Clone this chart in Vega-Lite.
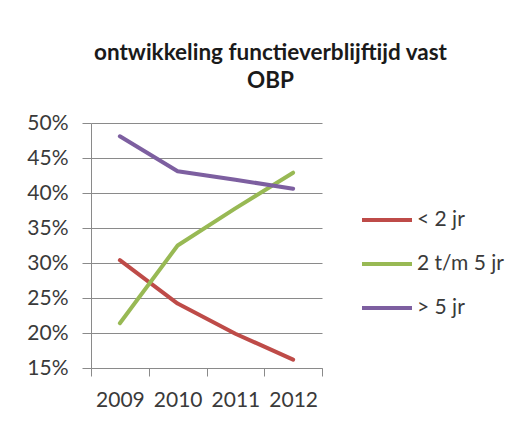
{
  "$schema": "https://vega.github.io/schema/vega-lite/v6.json",
  "width": 231,
  "height": 245,
  "autosize": {"type": "none"},
  "padding": {"left": 91, "top": 123, "right": 197, "bottom": 53},
  "background": "white",
  "title": {
    "text": ["ontwikkeling functieverblijftijd vast", "OBP"],
    "font": "Lato",
    "fontSize": 22.5,
    "fontWeight": "bold",
    "color": "#1a1a1a",
    "anchor": "middle",
    "frame": "group",
    "dx": 64,
    "lineHeight": 28,
    "offset": 20
  },
  "data": {
    "values": [
      {"year": "2009", "series": "< 2 jr", "value": 0.304},
      {"year": "2010", "series": "< 2 jr", "value": 0.242},
      {"year": "2011", "series": "< 2 jr", "value": 0.199},
      {"year": "2012", "series": "< 2 jr", "value": 0.162},
      {"year": "2009", "series": "2 t/m 5 jr", "value": 0.214},
      {"year": "2010", "series": "2 t/m 5 jr", "value": 0.325},
      {"year": "2011", "series": "2 t/m 5 jr", "value": 0.378},
      {"year": "2012", "series": "2 t/m 5 jr", "value": 0.429},
      {"year": "2009", "series": "> 5 jr", "value": 0.481},
      {"year": "2010", "series": "> 5 jr", "value": 0.431},
      {"year": "2011", "series": "> 5 jr", "value": 0.419},
      {"year": "2012", "series": "> 5 jr", "value": 0.406}
    ]
  },
  "mark": {"type": "line", "strokeWidth": 4, "strokeCap": "round", "strokeJoin": "round"},
  "encoding": {
    "x": {
      "field": "year",
      "type": "ordinal",
      "bandPosition": 0.5,
      "scale": {"type": "band", "paddingInner": 0, "paddingOuter": 0},
      "axis": {
        "title": null,
        "labelAngle": 0,
        "tickBand": "extent",
        "grid": false,
        "domainColor": "#8a8a8a",
        "tickColor": "#8a8a8a",
        "tickSize": 8,
        "labelFont": "Lato",
        "labelFontSize": 21,
        "labelColor": "#3a3a3a",
        "labelPadding": 13
      }
    },
    "y": {
      "field": "value",
      "type": "quantitative",
      "scale": {"domain": [0.15, 0.5], "nice": false, "zero": false},
      "axis": {
        "title": null,
        "format": ".0%",
        "values": [0.15, 0.2, 0.25, 0.3, 0.35, 0.4, 0.45, 0.5],
        "grid": true,
        "gridColor": "#8a8a8a",
        "domainColor": "#8a8a8a",
        "tickColor": "#8a8a8a",
        "tickSize": 9,
        "labelFont": "Lato",
        "labelFontSize": 21,
        "labelColor": "#3a3a3a",
        "labelPadding": 14
      }
    },
    "color": {
      "field": "series",
      "type": "nominal",
      "sort": ["< 2 jr", "2 t/m 5 jr", "> 5 jr"],
      "scale": {"domain": ["< 2 jr", "2 t/m 5 jr", "> 5 jr"], "range": ["#BE4B48", "#98B954", "#7D5FA0"]},
      "legend": {
        "title": null,
        "orient": "none",
        "legendX": 269,
        "legendY": 70,
        "symbolType": "stroke",
        "symbolSize": 2500,
        "symbolStrokeWidth": 4,
        "labelFont": "Lato",
        "labelFontSize": 21,
        "labelColor": "#3a3a3a",
        "labelOffset": 3,
        "rowPadding": 7,
        "padding": 0
      }
    }
  },
  "config": {"view": {"stroke": null}}
}
